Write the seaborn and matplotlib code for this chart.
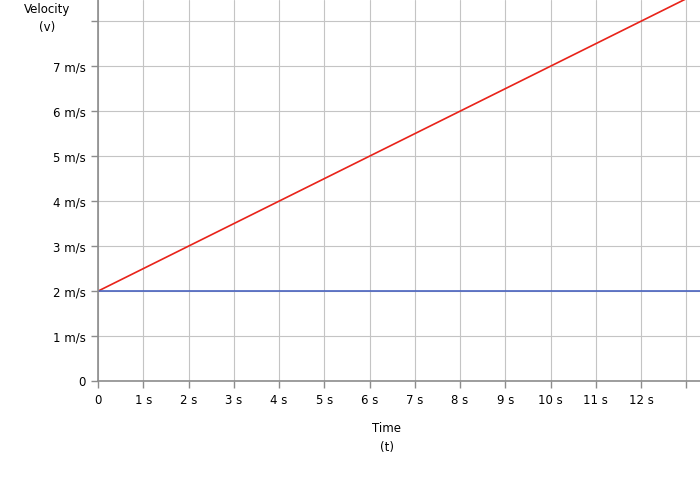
import pandas as pd
import matplotlib.pyplot as plt
import seaborn as sns

# time (s) and velocity (m/s) for the two motions
time_s = [0, 14]
accel_v = [2, 9]
const_v = [2, 2]

x_ticks = list(range(0, 14))
x_labels = ["0"] + [f"{t} s" for t in range(1, 13)] + [""]
y_ticks = list(range(0, 9))
y_labels = ["0"] + [f"{v} m/s" for v in range(1, 8)] + [""]

df = pd.DataFrame({"time": time_s + time_s,
                   "velocity": accel_v + const_v,
                   "motion": ["accelerating"] * 2 + ["constant"] * 2})

sns.set_style("white")
plt.rcParams["font.family"] = ["DejaVu Sans"]

fig = plt.figure(figsize=(7, 4.8), dpi=100)
ax = fig.add_axes([0.14, 0.206, 0.86, 0.794])

sns.lineplot(data=df, x="time", y="velocity", hue="motion",
             palette={"accelerating": "#e8231a", "constant": "#4a63c0"},
             linewidth=1.2, legend=False, ax=ax)

ax.set_xlim(0, 13.3)
ax.set_ylim(0, 8.47)
ax.set_xticks(x_ticks)
ax.set_xticklabels(x_labels, fontsize=8.5)
ax.set_yticks(y_ticks)
ax.set_yticklabels(y_labels, fontsize=8.5)
ax.grid(True, color="#c4c4c4", linewidth=0.8)
ax.set_axisbelow(True)
for side in ["top", "right"]:
    ax.spines[side].set_visible(False)
for side in ["left", "bottom"]:
    ax.spines[side].set_color("#8c8c8c")
    ax.spines[side].set_linewidth(1.2)
ax.tick_params(axis="both", bottom=True, left=True, length=5, width=1,
               color="#8c8c8c", labelcolor="black", pad=4)
ax.set_xlabel("")
ax.set_ylabel("")

fig.text(387 / 700, 1 - 438 / 480, "Time\n(t)", ha="center", va="center",
         fontsize=8.5, linespacing=1.5, color="black")
fig.text(47 / 700, 1 - 18 / 480, "Velocity\n(v)", ha="center", va="center",
         fontsize=8.5, linespacing=1.5, color="black")

plt.savefig("out.png", dpi=100)
